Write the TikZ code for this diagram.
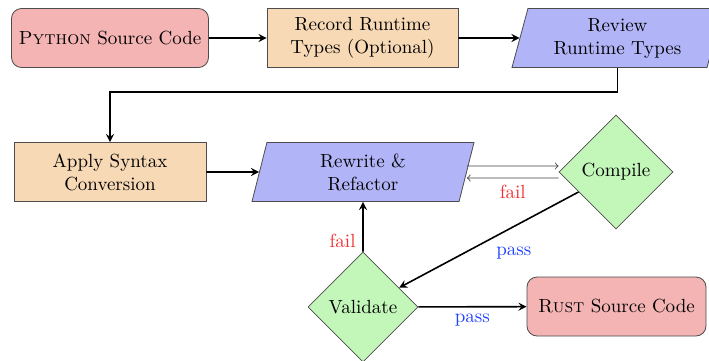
\documentclass[tikz,border=0pt]{standalone}
\usetikzlibrary{shapes.geometric,arrows}

\definecolor{SrcFill}{HTML}{F4B4B4}
\definecolor{StepFill}{HTML}{F7D9B5}
\definecolor{IoFill}{HTML}{B1B4F6}
\definecolor{TestFill}{HTML}{C3F7BA}
\definecolor{Fail}{HTML}{F03030}
\definecolor{Pass}{HTML}{2040FF}

\tikzset{
  srcbox/.style={rectangle, rounded corners=5pt, draw=black!70, fill=SrcFill, minimum width=89.5pt, minimum height=29.5pt, inner xsep=2pt, align=center},
  stepbox/.style={rectangle, draw=black!70, fill=StepFill, minimum width=96pt, minimum height=29.5pt, align=center},
  iobox/.style={trapezium, trapezium left angle=70, trapezium right angle=110, trapezium stretches body=true, draw=black!70, fill=IoFill, minimum height=29.5pt, inner ysep=1pt, inner xsep=2pt, align=center},
  testbox/.style={diamond, aspect=1, draw=black!70, fill=TestFill, inner sep=1pt},
  flow/.style={-stealth, thick},
  back/.style={->, black!75},
}

\begin{document}
\begin{tikzpicture}[x=0.5pt, y=-0.5pt, font=\fontsize{9.5}{11.5}\selectfont]

\useasboundingbox (0,0) rectangle (709,360);

%%%%%%%%%% First row %%%%%%%%%%

 \node[srcbox, minimum width=98.5pt] (python) at (110,38) {\textsc{Python} Source Code};
 \node[stepbox, minimum width=95.5pt] (record) at (362.5,38) {Record Runtime\\Types (Optional)};
 \node[iobox, minimum width=105.5pt] (review) at (617.5,38) {Review\\Runtime Types};

%%%%%%%%%% Second row %%%%%%%%%%

 \node[stepbox] (apply) at (110,172) {Apply Syntax\\Conversion};
 \node[iobox, minimum width=111pt] (rewrite) at (363,172) {Rewrite \&\\Refactor};
 \node[testbox, minimum width=57pt, minimum height=57pt] (compile) at (616,172) {Compile};

%%%%%%%%%% Third row %%%%%%%%%%

 \node[testbox, minimum width=55pt, minimum height=55pt] (validate) at (363,307) {Validate};
 \node[srcbox] (rust) at (616.5,306.5) {\textsc{Rust} Source Code};

%%%%%%%%%% Connectors %%%%%%%%%%

 \draw[flow] (python) -- (record);
 \draw[flow] (record) -- (review);
 \draw[flow] (review.south) -- ++(0,24) -| (apply.north);
 \draw[flow] (apply) -- (rewrite);

 \draw[back] ([yshift=3pt]rewrite.east) -- ([yshift=3pt]compile.west);
 \draw[back] ([yshift=-3pt]compile.west) -- node[below, text=Fail] {fail} ([yshift=-3pt]rewrite.east);

 \draw[flow] (compile) -- node[pos=0.5, below right, text=Pass] {pass} (validate);
 \draw[flow] (validate) -- node[pos=0.22, left, text=Fail] {fail} (rewrite);
 \draw[flow] (validate) -- node[below, text=Pass] {pass} (rust);

\end{tikzpicture}
\end{document}
